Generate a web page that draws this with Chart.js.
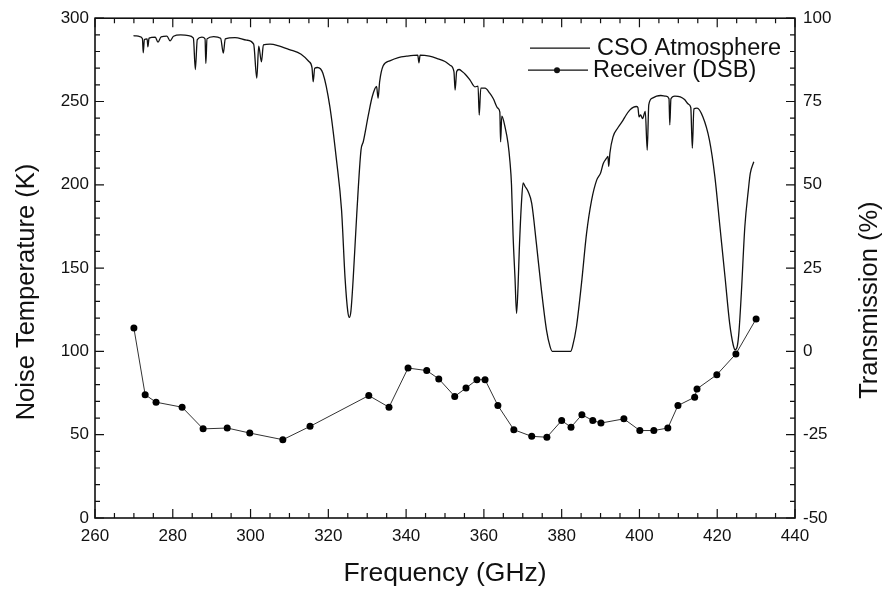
<!DOCTYPE html>
<html>
<head>
<meta charset="utf-8">
<script src="https://cdn.jsdelivr.net/npm/chart.js@4.4.0/dist/chart.umd.min.js"></script>
<style>
html, body { margin: 0; padding: 0; background: #fff; }
canvas { display: block; }
</style>
</head>
<body>
<canvas id="chart" width="885" height="592"></canvas>
<script>
// Receiver noise temperature (DSB), left axis, K
const rxFreq = [270.0, 272.9, 275.7, 282.4, 287.8, 294.0, 299.8, 308.3, 315.3, 330.4, 335.6,
    340.5, 345.3, 348.4, 352.5, 355.4, 358.2, 360.3, 363.6, 367.7, 372.3, 376.2, 380.0,
    382.4, 385.2, 388.0, 390.1, 396.0, 400.1, 403.7, 407.3, 409.9, 414.2, 414.8, 419.9,
    424.8, 430.0];
const rxTemp = [114, 74, 69.5, 66.5, 53.5, 54, 51, 47, 55, 73.5, 66.5,
    90, 88.5, 83.5, 73, 78, 83, 83, 67.5, 53, 49, 48.5, 58.5,
    54.5, 62, 58.5, 57, 59.5, 52.5, 52.5, 54, 67.5, 72.5, 77.5, 86,
    98.5, 119.5];

// CSO atmospheric transmission, right axis, %
const atmFreq = [269.9, 271.5, 272.2, 272.4, 272.7, 273.4, 273.6, 273.9, 275.5, 276.2, 277.0,
    278.5, 279.3, 280.2, 282.0, 284.0, 285.3, 285.8, 286.3, 287.5, 288.3, 288.5, 288.8,
    290.5, 292.3, 293.0, 293.5, 296.0, 299.0, 300.8, 301.6, 302.1, 302.8, 303.3, 305.0,
    307.0, 310.0, 313.0, 315.0, 315.8, 316.1, 316.5, 317.2, 318.6, 320.4, 322.1, 323.4,
    324.3, 325.0, 325.4, 325.8, 326.4, 327.3, 328.4, 329.0, 330.3, 331.3, 332.4, 332.8,
    333.2, 334.1, 335.8, 338.0, 340.1, 343.0, 343.3, 343.6, 346.0, 348.0, 350.0, 351.3,
    352.3, 352.6, 353.0, 353.6, 354.4, 355.2, 356.4, 357.7, 358.5, 358.8, 359.2, 360.3,
    361.5, 362.4, 363.6, 364.1, 364.3, 364.6, 365.5, 366.2, 366.7, 367.1, 367.5, 368.0,
    368.4, 368.8, 369.1, 369.7, 370.1, 370.6, 371.4, 372.3, 373.5, 374.8, 376.1, 377.0,
    377.6, 382.3, 382.8, 383.8, 385.1, 386.4, 387.7, 389.0, 390.0, 390.7, 391.5, 391.9,
    392.1, 392.4, 393.2, 394.5, 395.8, 396.5, 397.5, 398.5, 399.2, 399.6, 399.9, 400.3,
    400.8, 401.5, 402.0, 402.4, 403.3, 404.4, 405.5, 406.8, 407.6, 407.8, 408.1, 409.1,
    410.5, 411.6, 412.6, 413.2, 413.6, 414.0, 414.8, 416.3, 418.0, 419.4, 420.7, 422.0,
    423.2, 424.1, 424.6, 425.2, 425.6, 426.2, 427.1, 428.0, 428.5, 429.4];
const atmTrans = [94.8, 94.5, 93.8, 89.6, 93.6, 93.8, 91.4, 94.0, 94.3, 92.8, 94.4,
    94.6, 93.2, 94.6, 95.0, 94.8, 94.0, 84.6, 93.6, 94.3, 93.8, 86.4, 93.8,
    94.5, 94.0, 89.5, 93.8, 94.2, 93.4, 92.2, 82.0, 91.6, 86.9, 92.0, 92.2,
    91.8, 90.6, 89.2, 87.0, 85.2, 80.9, 85.0, 85.2, 83.5, 73.4, 57.4, 42.4,
    22.0, 12.0, 10.2, 12.0, 22.0, 41.0, 60.4, 63.0, 71.0, 76.5, 79.5, 76.0,
    81.0, 85.7, 87.2, 88.2, 88.6, 88.9, 86.6, 88.9, 88.6, 87.9, 87.0, 85.9,
    84.0, 78.4, 84.0, 84.6, 84.0, 83.2, 81.5, 79.4, 79.6, 70.9, 79.0, 79.0,
    77.5, 75.9, 73.0, 71.8, 62.9, 70.6, 67.0, 62.5, 57.0, 50.0, 35.0, 22.0,
    11.4, 20.0, 30.4, 45.4, 50.6, 49.5, 47.9, 44.4, 32.4, 18.4, 6.4, 1.5,
    0.0, 0.0, 1.5, 7.4, 20.4, 35.4, 45.4, 51.4, 53.5, 56.4, 57.9, 58.5,
    55.5, 59.5, 64.4, 67.2, 69.4, 70.8, 72.4, 73.3, 73.5, 73.2, 70.4, 71.0,
    69.9, 72.0, 60.4, 74.0, 76.0, 76.6, 76.8, 76.6, 75.8, 68.0, 75.8, 76.6,
    76.4, 75.6, 74.2, 73.2, 61.0, 72.8, 73.0, 70.4, 63.4, 52.4, 37.4, 22.4,
    8.4, 2.0, 0.5, 1.8, 6.0, 17.4, 37.4, 48.4, 53.4, 56.9];

const seriesNames = ['CSO Atmosphere', 'Receiver (DSB)'];
const xTitle = 'Frequency (GHz)';
const yTitle = 'Noise Temperature (K)';
const y1Title = 'Transmission (%)';

const fontFamily = '"Liberation Sans", Arial, sans-serif';
const ink = '#111';

// Cadre, graduations vers l'intérieur, titres verticaux et légende
const framePlugin = {
    id: 'framePlugin',
    afterDraw(chart) {
        const { ctx, chartArea: a, scales } = chart;
        ctx.save();
        ctx.strokeStyle = ink;
        ctx.lineWidth = 1.6;
        ctx.strokeRect(a.left, a.top, a.right - a.left, a.bottom - a.top);

        ctx.lineWidth = 1.2;
        ctx.beginPath();
        for (let v = 260; v <= 440; v += 5) {
            const px = scales.x.getPixelForValue(v);
            const len = v % 20 === 0 ? 9 : 5;
            ctx.moveTo(px, a.bottom); ctx.lineTo(px, a.bottom - len);
            ctx.moveTo(px, a.top); ctx.lineTo(px, a.top + len);
        }
        for (let v = 0; v <= 300; v += 10) {
            const py = scales.y.getPixelForValue(v);
            const len = v % 50 === 0 ? 9 : 5;
            ctx.moveTo(a.left, py); ctx.lineTo(a.left + len, py);
        }
        for (let v = -50; v <= 100; v += 5) {
            const py = scales.y1.getPixelForValue(v);
            const len = v % 25 === 0 ? 9 : 5;
            ctx.moveTo(a.right, py); ctx.lineTo(a.right - len, py);
        }
        ctx.stroke();

        // titres verticaux (les deux lus de bas en haut)
        const midY = (a.top + a.bottom) / 2;
        ctx.fillStyle = ink;
        ctx.font = '25.5px ' + fontFamily;
        ctx.textAlign = 'center';
        ctx.textBaseline = 'middle';
        ctx.save();
        ctx.translate(27, midY + 24);
        ctx.rotate(-Math.PI / 2);
        ctx.fillText(yTitle, 0, 0);
        ctx.restore();
        ctx.save();
        ctx.translate(chart.width - 15, midY + 32);
        ctx.rotate(-Math.PI / 2);
        ctx.fillText(y1Title, 0, 0);
        ctx.restore();

        // légende
        const lx = a.right - 265;
        const ly1 = a.top + 30;
        const ly2 = a.top + 52;
        ctx.lineWidth = 1.3;
        ctx.beginPath();
        ctx.moveTo(lx, ly1); ctx.lineTo(lx + 60, ly1);
        ctx.moveTo(lx - 2, ly2); ctx.lineTo(lx + 58, ly2);
        ctx.stroke();
        ctx.beginPath();
        ctx.arc(lx + 27, ly2, 3, 0, Math.PI * 2);
        ctx.fill();
        ctx.font = '23.5px ' + fontFamily;
        ctx.textAlign = 'left';
        ctx.fillText(seriesNames[0], lx + 67, ly1);
        ctx.fillText(seriesNames[1], lx + 63, ly2);
        ctx.restore();
    }
};

const ctx = document.getElementById('chart');

new Chart(ctx, {
    type: 'line',
    data: {
        datasets: [{
            label: seriesNames[0],
            data: atmFreq.map((f, i) => ({ x: f, y: atmTrans[i] })),
            yAxisID: 'y1',
            borderColor: ink,
            borderWidth: 1.3,
            pointRadius: 0,
            cubicInterpolationMode: 'monotone',
            fill: false
        }, {
            label: seriesNames[1],
            data: rxFreq.map((f, i) => ({ x: f, y: rxTemp[i] })),
            yAxisID: 'y',
            borderColor: '#333',
            borderWidth: 1,
            pointRadius: 3.5,
            pointBackgroundColor: '#000',
            pointBorderWidth: 0,
            tension: 0,
            fill: false
        }]
    },
    options: {
        responsive: false,
        animation: false,
        devicePixelRatio: 1,
        layout: { padding: { top: 18, left: 0, right: 0, bottom: 0 } },
        plugins: {
            legend: { display: false },
            tooltip: { enabled: false }
        },
        scales: {
            x: {
                type: 'linear',
                min: 260,
                max: 440,
                grid: { display: false, drawTicks: false },
                border: { display: false },
                ticks: {
                    stepSize: 20,
                    padding: 8,
                    color: ink,
                    font: { family: fontFamily, size: 17 }
                },
                title: {
                    display: true,
                    text: xTitle,
                    color: ink,
                    font: { family: fontFamily, size: 26.5 },
                    padding: { top: 0, bottom: 2 }
                },
                afterFit: s => { s.height = 74; }
            },
            y: {
                position: 'left',
                min: 0,
                max: 300,
                grid: { display: false, drawTicks: false },
                border: { display: false },
                ticks: {
                    stepSize: 50,
                    padding: 6,
                    color: ink,
                    font: { family: fontFamily, size: 17 }
                },
                afterFit: s => { s.width = 95; }
            },
            y1: {
                position: 'right',
                min: -50,
                max: 100,
                grid: { display: false, drawTicks: false },
                border: { display: false },
                ticks: {
                    stepSize: 25,
                    padding: 8,
                    color: ink,
                    font: { family: fontFamily, size: 17 }
                },
                afterFit: s => { s.width = 90; }
            }
        }
    },
    plugins: [framePlugin]
});
</script>
</body>
</html>
